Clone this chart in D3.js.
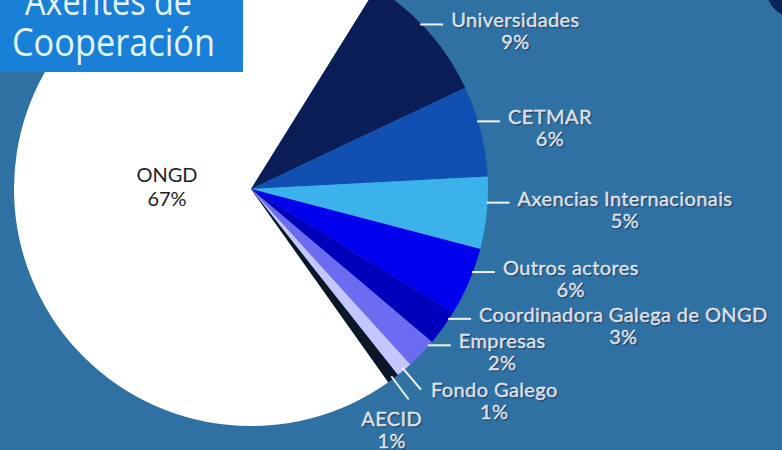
<!DOCTYPE html>
<html><head><meta charset="utf-8">
<script src="https://cdn.jsdelivr.net/npm/d3@7"></script>
<style>body{margin:0;background:#2f6fa2;overflow:hidden}</style>
</head><body>
<svg id="c" width="782" height="450"></svg>
<script>
const categories = ["ONGD","Universidades","CETMAR","Axencias Internacionais","Outros actores","Coordinadora Galega de ONGD","Empresas","Fondo Galego","AECID"];
const values = [68.7, 9.1, 6.2, 4.9, 4.7, 2.4, 2.1, 1.1, 0.8];
const percentLabels = ["67%","9%","6%","5%","6%","3%","2%","1%","1%"];
const colors = ["#ffffff","#0a1d57","#1150b0","#3bb3ea","#0000ee","#0000bb","#6c6cf2","#c3c6ff","#0b1626"];
const titleLines = ["Axentes de","Cooperación"];

const W = 782, H = 450;
const cx = 251, cy = 189, R = 237;
const deg = Math.PI/180;
const svg = d3.select("#c");

svg.append("rect").attr("width",W).attr("height",H).attr("fill","#3071a3");
svg.append("circle").attr("cx",796).attr("cy",-12).attr("r",30).attr("fill","#0b2457");

const start = 144.6*deg;
const pie = d3.pie().sort(null).value(d=>d).startAngle(start).endAngle(start+2*Math.PI);
const arcs = pie(values);
const arc = d3.arc().innerRadius(0).outerRadius(R);

const g = svg.append("g").attr("transform",`translate(${cx},${cy})`);
g.selectAll("path").data(arcs).join("path")
  .attr("d",arc).attr("fill",(d,i)=>colors[i]);

// ONGD label
const c0 = [-84, -7];
g.append("text").attr("x",c0[0]).attr("y",c0[1]).attr("text-anchor","middle")
  .attr("font-family","Lato").attr("font-size",20).attr("fill","#222")
  .text(categories[0]);
g.append("text").attr("x",c0[0]).attr("y",c0[1]+24).attr("text-anchor","middle")
  .attr("font-family","Lato").attr("font-size",20).attr("fill","#222")
  .text(percentLabels[0]);

const lab = svg.append("g").attr("font-family","Lato").attr("font-size",20).attr("letter-spacing",0.4)
  .attr("fill","#eef2f8").attr("stroke","#eef2f8").attr("stroke-width",0.35)
  .style("text-shadow","1px 1px 1px rgba(0,0,30,0.45)");

arcs.forEach((a,i)=>{
  if(i===0) return;
  const mid = (a.startAngle+a.endAngle)/2;
  if(values[i] >= 1.5){
    const ang = mid - 2.5*deg;
    const x0 = cx + (R-1)*Math.sin(ang), y0 = cy - (R-1)*Math.cos(ang);
    const x1 = x0 + 23;
    lab.append("line").attr("x1",x0).attr("y1",y0).attr("x2",x1).attr("y2",y0)
      .attr("stroke","#eef2f8").attr("stroke-width",2);
    const t = lab.append("text").attr("x",x1+8).attr("y",y0+3).text(categories[i]);
    const w = t.node().getComputedTextLength();
    lab.append("text").attr("x",x1+8+w/2).attr("y",y0+25).attr("text-anchor","middle").text(percentLabels[i]);
  } else {
    const r0 = R-3, r1 = R+26;
    const x0 = cx + r0*Math.sin(mid), y0 = cy - r0*Math.cos(mid);
    const x1 = cx + r1*Math.sin(mid), y1 = cy - r1*Math.cos(mid);
    lab.append("line").attr("x1",x0).attr("y1",y0).attr("x2",x1).attr("y2",y1)
      .attr("stroke","#eef2f8").attr("stroke-width",2);
    if(i === arcs.length-1){
      lab.append("text").attr("x",x1-17).attr("y",y1+27).attr("text-anchor","middle").text(categories[i]);
      lab.append("text").attr("x",x1-17).attr("y",y1+49).attr("text-anchor","middle").text(percentLabels[i]);
    } else {
      const t = lab.append("text").attr("x",x1+10).attr("y",y1+7).text(categories[i]);
      const w = t.node().getComputedTextLength();
      lab.append("text").attr("x",x1+10+w/2).attr("y",y1+29).attr("text-anchor","middle").text(percentLabels[i]);
    }
  }
});

// Title box
svg.append("rect").attr("x",0).attr("y",0).attr("width",243).attr("height",72).attr("fill","#1a7fd6");
svg.append("text").attr("x",25).attr("y",15).attr("font-family","Open Sans").attr("font-size",38)
  .attr("fill","#e4f4ff").attr("textLength",167).attr("lengthAdjust","spacingAndGlyphs").text(titleLines[0]);
svg.append("text").attr("x",12).attr("y",56).attr("font-family","Open Sans").attr("font-size",39)
  .attr("fill","#e4f4ff").attr("textLength",203).attr("lengthAdjust","spacingAndGlyphs").text(titleLines[1]);
</script>
</body></html>
